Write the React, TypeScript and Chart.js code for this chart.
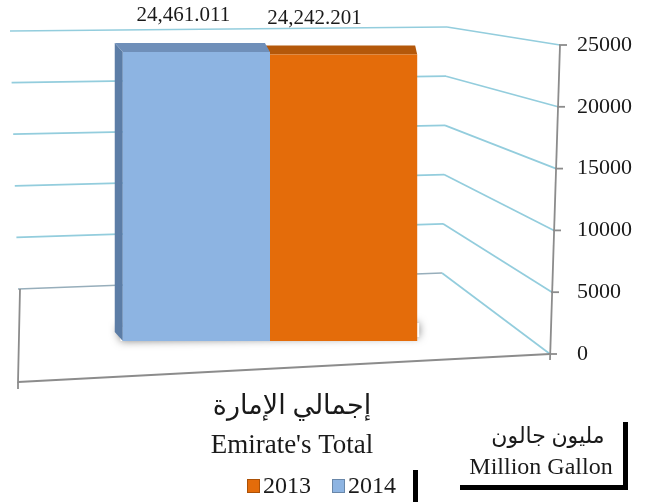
import React, { useEffect, useRef } from 'react';
import { Chart, registerables } from 'chart.js';

Chart.register(...registerables);

// ---- data ----
const CATEGORY_LABEL: string[] = ['إجمالي الإمارة', "Emirate's Total"];
const SERIES_LABELS: string[] = ['2014', '2013'];
const VALUES_2014: number[] = [24461.011];
const VALUES_2013: number[] = [24242.201];
const Y_TICKS: number[] = [0, 5000, 10000, 15000, 20000, 25000];
const UNIT_AR = 'مليون جالون';
const UNIT_EN = 'Million Gallon';

// ---- styles ----
const FONT = "'Liberation Serif', 'DejaVu Sans', serif";
const TEXT = '#1a1a1a';
const FRONT = ['#8DB4E2', '#E46C0A'];
const TOP = ['#6F8FB9', '#B4580A'];
const SIDE = ['#5C7DA6', '#A24F08'];
const GRID = '#93CDDD';
const FLOOR_BACK = '#97AEBB';
const AXIS = '#8C8C8C';
const LABEL_SHIFT = [-13, -29];
const OX = 12; // canvas is shifted 12px left of the page

const lerp = (a: number, b: number, t: number) => a + (b - a) * t;
const P = (x: number) => x + OX; // page x -> canvas x

const depthDx = (chart: any, px: number) => {
  const { left, right } = chart.chartArea;
  const t = (px - left) / (right - left);
  return -10.8 + 11.5 * t;
};

const scenePlugin = {
  id: 'scene3d',
  beforeDatasetsDraw(chart: any) {
    const ctx = chart.ctx as CanvasRenderingContext2D;
    const ys = chart.scales.y;
    const { right } = chart.chartArea;
    const min = ys.min;
    const max = ys.max;
    const axisX = (f: number) => right - 2 + 10 * f;

    ctx.save();
    ctx.lineJoin = 'round';
    // back + side wall gridlines
    Y_TICKS.forEach((v) => {
      const f = (v - min) / (max - min);
      const yR = ys.getPixelForValue(v);
      const xR = axisX(f);
      const xC = P(lerp(442, 447, f));
      const yC = lerp(273, 27, f);
      const xL = P(lerp(18, 10, f));
      const yL = lerp(289, 31, f);
      ctx.lineWidth = 1.7;
      ctx.strokeStyle = v === 0 ? FLOOR_BACK : GRID;
      ctx.beginPath();
      ctx.moveTo(xL, yL);
      ctx.lineTo(xC, yC);
      ctx.stroke();
      ctx.strokeStyle = GRID;
      ctx.beginPath();
      ctx.moveTo(xC, yC);
      ctx.lineTo(xR, yR);
      ctx.stroke();
    });

    // floor front and left edges, value axis
    const y0 = ys.getPixelForValue(0);
    const yTop = ys.getPixelForValue(max);
    ctx.strokeStyle = AXIS;
    ctx.lineWidth = 1.8;
    ctx.beginPath();
    ctx.moveTo(P(20), 289);
    ctx.lineTo(P(18), 382);
    ctx.lineTo(axisX(0), y0);
    ctx.stroke();
    ctx.beginPath();
    ctx.moveTo(P(18), 382);
    ctx.lineTo(P(18), 389);
    ctx.stroke();
    ctx.beginPath();
    ctx.moveTo(axisX(0), y0 + 6);
    ctx.lineTo(axisX(1), yTop);
    ctx.stroke();
    Y_TICKS.forEach((v) => {
      const f = (v - min) / (max - min);
      const yy = ys.getPixelForValue(v);
      ctx.beginPath();
      ctx.moveTo(axisX(f) - 1, yy);
      ctx.lineTo(axisX(f) + 7, yy);
      ctx.stroke();
    });

    // soft shadow under bars
    const metas = chart.getSortedVisibleDatasetMetas();
    let minX = Infinity, maxX = -Infinity, baseY = 0;
    metas.forEach((m: any) => {
      m.data.forEach((bar: any) => {
        const p = bar.getProps(['x', 'width', 'base'], true);
        minX = Math.min(minX, p.x - p.width / 2);
        maxX = Math.max(maxX, p.x + p.width / 2);
        baseY = Math.max(baseY, p.base);
      });
    });
    ctx.shadowColor = 'rgba(0,0,0,0.5)';
    ctx.shadowBlur = 8;
    ctx.shadowOffsetX = 0;
    ctx.shadowOffsetY = 0;
    ctx.fillStyle = '#ffffff';
    ctx.beginPath();
    ctx.moveTo(minX - 6, baseY - 14);
    ctx.lineTo(maxX + 2, baseY - 18);
    ctx.lineTo(maxX + 2, baseY - 4);
    ctx.lineTo(minX - 2, baseY);
    ctx.closePath();
    ctx.fill();
    ctx.shadowColor = 'transparent';
    ctx.shadowBlur = 0;

    // top and side faces (drawn back to front: right bar first)
    const ordered = [...metas].sort((a: any, b: any) => b.index - a.index);
    ordered.forEach((m: any) => {
      const di = m.index;
      m.data.forEach((bar: any) => {
        const { x, y, base, width } = bar.getProps(['x', 'y', 'base', 'width'], true);
        const xl = x - width / 2;
        const xr = x + width / 2;
        const dxl = depthDx(chart, xl);
        const dxr = depthDx(chart, xr);
        const dy = -9;
        ctx.fillStyle = SIDE[di];
        ctx.beginPath();
        ctx.moveTo(xl, y);
        ctx.lineTo(xl + dxl, y + dy);
        ctx.lineTo(xl + dxl, base + dy);
        ctx.lineTo(xl, base);
        ctx.closePath();
        ctx.fill();
        ctx.fillStyle = TOP[di];
        ctx.beginPath();
        ctx.moveTo(xl, y);
        ctx.lineTo(xr, y);
        ctx.lineTo(xr + dxr, y + dy);
        ctx.lineTo(xl + dxl, y + dy);
        ctx.closePath();
        ctx.fill();
      });
    });
    ctx.restore();
  },
  afterDatasetsDraw(chart: any) {
    const ctx = chart.ctx as CanvasRenderingContext2D;
    ctx.save();
    ctx.font = `21px ${FONT}`;
    ctx.fillStyle = TEXT;
    ctx.textAlign = 'center';
    ctx.textBaseline = 'middle';
    chart.getSortedVisibleDatasetMetas().forEach((m: any) => {
      const ds = chart.data.datasets[m.index];
      m.data.forEach((bar: any, i: number) => {
        const { x, y } = bar.getProps(['x', 'y'], true);
        const v = ds.data[i] as number;
        const txt = v.toLocaleString('en-US', { minimumFractionDigits: 3, maximumFractionDigits: 3 });
        ctx.fillText(txt, x + LABEL_SHIFT[m.index], y - 36);
      });
    });
    ctx.restore();
  },
  afterDraw(chart: any) {
    const ctx = chart.ctx as CanvasRenderingContext2D;
    ctx.save();
    // legend (2013 first, then 2014)
    ctx.font = `24px ${FONT}`;
    ctx.textAlign = 'left';
    ctx.textBaseline = 'middle';
    let lx = P(247);
    const ly = 486;
    const items = [...chart.data.datasets].reverse();
    items.forEach((ds: any) => {
      const col = ds.backgroundColor as string;
      const g = ctx.createLinearGradient(lx, ly - 7, lx + 13, ly + 7);
      g.addColorStop(0, col);
      g.addColorStop(1, col);
      ctx.fillStyle = col;
      ctx.fillRect(lx, ly - 7, 13, 14);
      ctx.strokeStyle = 'rgba(0,0,0,0.25)';
      ctx.lineWidth = 1;
      ctx.strokeRect(lx + 0.5, ly - 6.5, 12, 13);
      ctx.fillStyle = TEXT;
      ctx.fillText(ds.label, lx + 16, ly + 1);
      lx += 16 + ctx.measureText(ds.label).width + 21;
    });

    // unit box
    ctx.fillStyle = TEXT;
    ctx.textAlign = 'center';
    ctx.font = `22px ${FONT}`;
    ctx.fillText(UNIT_AR, P(548), 437);
    ctx.font = `24px ${FONT}`;
    ctx.fillText(UNIT_EN, P(541), 468);
    ctx.fillStyle = '#000';
    ctx.fillRect(P(623), 422, 5, 68);
    ctx.fillRect(P(460), 485, 168, 5);
    ctx.fillRect(P(413), 470, 5, 32);
    ctx.restore();
  },
};

export default function App() {
  const ref = useRef<HTMLCanvasElement | null>(null);

  useEffect(() => {
    if (!ref.current) return;
    const chart = new Chart(ref.current, {
      type: 'bar',
      data: {
        labels: [CATEGORY_LABEL],
        datasets: [
          {
            label: SERIES_LABELS[0],
            data: VALUES_2014,
            backgroundColor: FRONT[0],
            borderWidth: 0,
            yAxisID: 'yBar',
            categoryPercentage: 0.522,
            barPercentage: 1,
          },
          {
            label: SERIES_LABELS[1],
            data: VALUES_2013,
            backgroundColor: FRONT[1],
            borderWidth: 0,
            yAxisID: 'yBar',
            categoryPercentage: 0.522,
            barPercentage: 1,
          },
        ],
      },
      options: {
        animation: false,
        responsive: true,
        maintainAspectRatio: false,
        layout: { padding: { top: 45, right: 15, bottom: 0, left: 0 } },
        plugins: {
          legend: { display: false },
          tooltip: { enabled: false },
        },
        scales: {
          x: {
            type: 'category',
            offset: true,
            grid: { display: false, drawTicks: false },
            border: { display: false },
            afterFit: (s: any) => {
              s.height = 148;
            },
            ticks: {
              color: TEXT,
              font: { family: FONT, size: 27, lineHeight: 1.45 },
              padding: 33,
              labelOffset: 22,
              maxRotation: 0,
              autoSkip: false,
            },
          },
          y: {
            type: 'linear',
            position: 'right',
            min: 0,
            max: 25000,
            grid: { display: false, drawTicks: false },
            border: { display: false },
            afterFit: (s: any) => {
              s.width = 80;
            },
            afterBuildTicks: (s: any) => {
              s.ticks = Y_TICKS.map((v) => ({ value: v }));
            },
            ticks: {
              color: TEXT,
              padding: 25,
              font: { family: FONT, size: 22 },
              callback: (v: any) => String(v),
            },
          },
          yBar: {
            type: 'linear',
            display: false,
            min: -1100,
            max: 25050,
          },
        },
      },
      plugins: [scenePlugin],
    });
    return () => chart.destroy();
  }, []);

  return (
    <div style={{ position: 'absolute', left: -OX, top: 0, width: 647 + OX, height: 502, background: '#fff', overflow: 'hidden' }}>
      <canvas ref={ref} />
    </div>
  );
}
